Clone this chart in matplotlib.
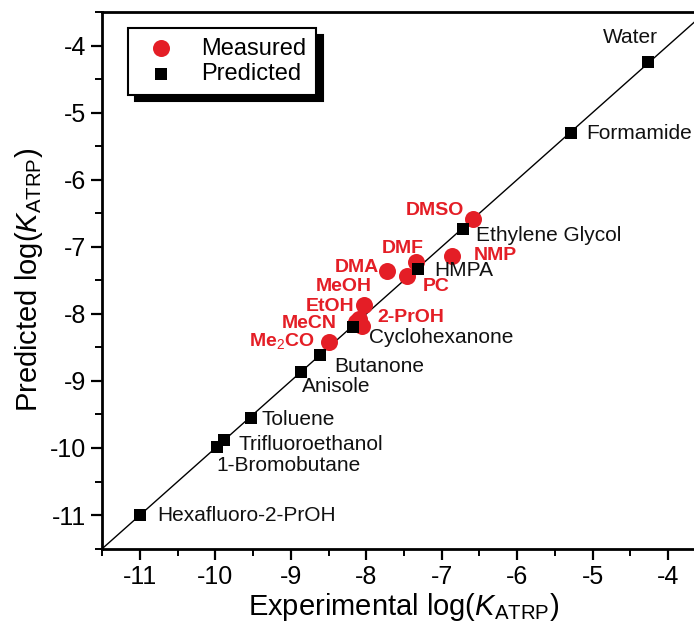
import matplotlib.pyplot as plt
import numpy as np

plt.rcParams['font.family'] = 'Liberation Sans'
plt.rcParams['mathtext.fontset'] = 'custom'
plt.rcParams['mathtext.rm'] = 'Liberation Sans'
plt.rcParams['mathtext.it'] = 'Liberation Sans:italic'

# Predicted (black squares)
pred_names = ['Water', 'Formamide', 'Ethylene Glycol', 'HMPA', 'Cyclohexanone',
              'Butanone', 'Anisole', 'Toluene', 'Trifluoroethanol', '1-Bromobutane',
              'Hexafluoro-2-PrOH']
pred_x = [-4.26, -5.28, -6.72, -7.31, -8.17, -8.61, -8.87, -9.53, -9.88, -9.98, -11.0]
pred_y = [-4.25, -5.31, -6.73, -7.33, -8.20, -8.62, -8.87, -9.55, -9.88, -9.99, -11.0]
# label offsets (pixels) and alignment
pred_off = [(-18, 25, 'center'), (15, 0, 'left'), (13, -7, 'left'), (16, -2, 'left'),
            (16, -10, 'left'), (14, -11, 'left'), (1, -14, 'left'), (11, -2, 'left'),
            (14, -5, 'left'), (-1, -18, 'left'), (17, 0, 'left')]

# Measured (red circles)
meas_names = ['DMSO', 'DMF', 'DMA', 'NMP', 'MeOH', 'PC', 'EtOH', '2-PrOH', 'MeCN',
              r'Me$_2$CO']
meas_x = [-6.59, -7.34, -7.72, -6.86, -8.03, -7.46, -8.10, -8.06, -8.14, -8.49]
meas_y = [-6.58, -7.23, -7.36, -7.14, -7.87, -7.44, -8.08, -8.18, -8.12, -8.42]
meas_off = [(-9, 8, 'right'), (8, 14, 'right'), (-8, 3, 'right'), (21, 1, 'left'),
            (8, 19, 'right'), (16, -10, 'left'), (-4, 13, 'right'), (16, 8, 'left'),
            (-19, -2, 'right'), (-15, 1, 'right')]

red = '#e41e26'

fig = plt.figure(figsize=(6.94, 6.28), dpi=100)
ax = fig.add_axes([102.3 / 694, 1 - 548.6 / 628, 603.4 / 694, 536.6 / 628])

lims = [-11.5, -3.5]
ax.plot(lims, lims, color='black', lw=1.0, zorder=1)

ax.scatter(meas_x, meas_y, s=150, color=red, marker='o', zorder=3, label='Measured',
           linewidths=0)
ax.scatter(pred_x, pred_y, s=64, color='black', marker='s', zorder=4, label='Predicted',
           linewidths=0)

for name, x, y, (dx, dy, ha) in zip(pred_names, pred_x, pred_y, pred_off):
    ax.annotate(name, (x, y), xytext=(dx, dy), textcoords='offset pixels',
                ha=ha, va='center', fontsize=15, color='#111111')

for name, x, y, (dx, dy, ha) in zip(meas_names, meas_x, meas_y, meas_off):
    ax.annotate(name, (x, y), xytext=(dx, dy), textcoords='offset pixels',
                ha=ha, va='center', fontsize=14, color=red, fontweight='bold')

ax.set_xlim(lims)
ax.set_ylim(lims)
ax.set_xticks(np.arange(-11, -3.5, 1))
ax.set_yticks(np.arange(-11, -3.5, 1))
ax.set_xticks(np.arange(-11.5, -3.4, 0.5), minor=True)
ax.set_yticks(np.arange(-11.5, -3.4, 0.5), minor=True)
ax.set_xticklabels([f'{v:d}' for v in range(-11, -3)])
ax.set_yticklabels([f'{v:d}' for v in range(-11, -3)])
ax.tick_params(which='major', direction='out', length=8, width=1.6, labelsize=18)
ax.tick_params(which='minor', direction='out', length=5, width=1.4)
for sp in ax.spines.values():
    sp.set_linewidth(2)

ax.set_xlabel(r'Experimental log($K_{\mathrm{ATRP}}$)', fontsize=21, labelpad=2)
ax.set_ylabel(r'Predicted log($K_{\mathrm{ATRP}}$)', fontsize=21, labelpad=4)

leg = ax.legend(loc='upper left', bbox_to_anchor=(0.0426, 0.970), borderaxespad=0,
                fontsize=17, fancybox=False, edgecolor='black', framealpha=1,
                handletextpad=0.7, borderpad=0.4, labelspacing=0.15,
                shadow={'ox': 5, 'oy': -5, 'color': 'black', 'alpha': 1, 'shade': 0})
leg.get_frame().set_linewidth(1.5)

fig.savefig('out.png', dpi=100)
